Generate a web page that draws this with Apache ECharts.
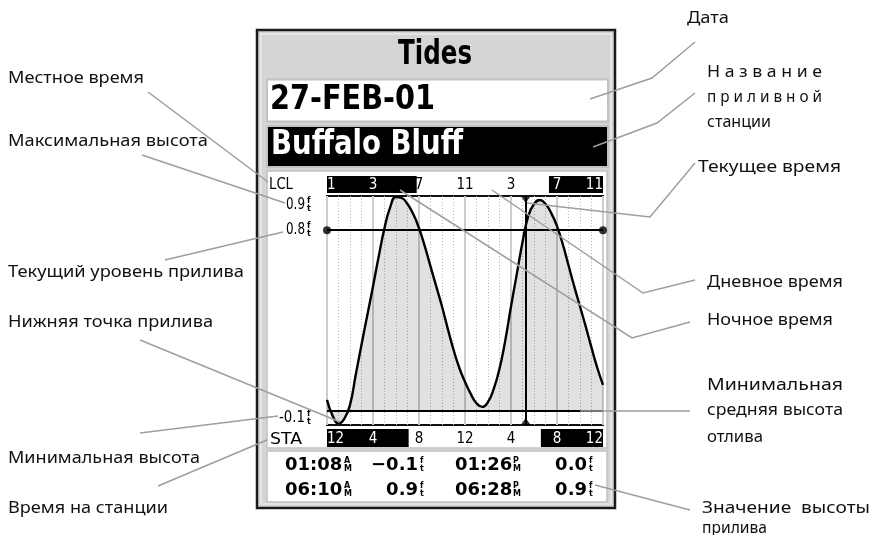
<!DOCTYPE html>
<html><head><meta charset="utf-8">
<script src="https://cdn.jsdelivr.net/npm/echarts@6/dist/echarts.min.js"></script>
<style>html,body{margin:0;padding:0;background:#fff}#c{width:871px;height:535px}</style>
</head><body><div id="c"></div>
<script>
// ---------- data ----------
const hours = [0, 0.5, 1, 1.5, 2, 2.5, 3, 3.5, 4, 4.5, 5, 5.5, 6, 6.5, 7, 7.5, 8, 8.5, 9, 9.5, 10, 10.5, 11, 11.5, 12, 12.5, 13, 13.5, 14, 14.5, 15, 15.5, 16, 16.5, 17, 17.5, 18, 18.5, 19, 19.5, 20, 20.5, 21, 21.5, 22, 22.5, 23, 23.5, 24];
const tideFt = [-0.045, -0.125, -0.163, -0.14, -0.07, 0.08, 0.23, 0.375, 0.52, 0.67, 0.81, 0.915, 0.965, 0.96, 0.93, 0.88, 0.81, 0.72, 0.62, 0.52, 0.42, 0.31, 0.205, 0.115, 0.045, -0.015, -0.062, -0.08, -0.055, 0.01, 0.11, 0.25, 0.42, 0.58, 0.74, 0.87, 0.93, 0.95, 0.93, 0.885, 0.82, 0.73, 0.625, 0.52, 0.42, 0.32, 0.215, 0.115, 0.03];
const xTicks = [0, 4, 8, 12, 16, 20, 24];
const lclLabels = ['1', '3', '7', '11', '3', '7', '11'];
const staLabels = ['12', '4', '8', '12', '4', '8', '12'];
const lclNight = [[0, 7.8], [19.3, 24]];
const staNight = [[0, 7.1], [18.6, 24]];
const currentTime = 17.28;
const currentLevel = 0.8;
const meanLowWater = -0.1;
const yMin = -0.17, yMax = 0.97;
const yTickLabels = ['0.9', '0.8', '-0.1'];
const tableTimes = [['01:08', '01:26'], ['06:10', '06:28']];
const tableAmPm = [['A', 'P'], ['A', 'P']];
const tableHeights = [['−0.1', '0.0'], ['0.9', '0.9']];
const titleText = 'Tides', dateText = '27-FEB-01', stationText = 'Buffalo Bluff';

// ---------- helpers ----------
const mctx = document.createElement('canvas').getContext('2d');
function tw(text, font) { mctx.font = font; return mctx.measureText(text).width; }
function txt(text, x, y, font, fill, opt) {
  opt = opt || {};
  const el = { type: 'text', x: x, y: y, z: opt.z != null ? opt.z : 20, silent: true,
    style: { text: text, font: font, fill: fill, align: opt.align || 'left', verticalAlign: 'middle' } };
  if (opt.w) el.scaleX = opt.w / tw(text, font);
  return el;
}
function rect(x, y, w, h, fill, stroke, lw, z) {
  return { type: 'rect', z: z != null ? z : -10, silent: true, shape: { x: x, y: y, width: w, height: h },
    style: { fill: fill, stroke: stroke || null, lineWidth: lw || 0 } };
}
function lead(points) {
  return { type: 'polyline', z: 50, silent: true, shape: { points: points },
    style: { stroke: '#9e9e9e', lineWidth: 1.5, fill: null } };
}
function stack(x, y, a, b, font) {
  return [txt(a, x, y - 4, font, '#000', { z: 21 }), txt(b, x, y + 3.5, font, '#000', { z: 21 })];
}
const inNight = (ivals, v) => ivals.some(r => v >= r[0] && v <= r[1]);

const NOTO = '17px "Noto Sans"';
const g = [];
// device frame
g.push(rect(257, 30, 358, 478, '#d5d5d5', '#1a1a1a', 2.5));
g.push(rect(261, 34, 350, 470, null, '#e9e9e9', 1.5));
g.push(rect(267, 79.5, 341, 42, '#ffffff', '#c2c2c2', 2));
g.push(rect(267, 126, 341, 41, '#000000', '#c2c2c2', 2));
g.push(rect(267, 171, 340, 277, '#ffffff', '#c2c2c2', 1.5));
g.push(rect(267, 451, 340, 51, '#ffffff', '#c2c2c2', 1.5));
// header texts
g.push(txt(titleText, 398, 55, 'bold 33px "DejaVu Sans"', '#000', { w: 74 }));
g.push(txt(dateText, 270, 100.5, 'bold 34px "DejaVu Sans"', '#000', { w: 165 }));
g.push(txt(stationText, 271, 145.5, 'bold 34px "DejaVu Sans"', '#fff', { w: 192 }));
// axis side texts
g.push(txt('LCL', 269, 185, '16px "DejaVu Sans"', '#000', { w: 24 }));
g.push(txt('STA', 270, 440, '16px "DejaVu Sans"', '#000', { w: 32 }));
const yLabPos = [[286, 205, 19], [286, 230, 19], [279, 418, 26]];
yTickLabels.forEach((t, i) => {
  const p = yLabPos[i];
  g.push(txt(t, p[0], p[1], '16px "DejaVu Sans"', '#000', { w: p[2] }));
  g.push.apply(g, stack(307, p[1], 'f', 't', 'bold 8px "DejaVu Sans"'));
});
// table
const rowY = [465, 490];
const TF = 'bold 18px "DejaVu Sans"';
const SF = 'bold 8px "DejaVu Sans"';
for (let r = 0; r < 2; r++) {
  const y = rowY[r];
  g.push(txt(tableTimes[r][0], 285, y, TF, '#000'));
  g.push.apply(g, stack(344, y, tableAmPm[r][0], 'M', SF));
  g.push(txt(tableHeights[r][0], 418, y, TF, '#000', { align: 'right' }));
  g.push.apply(g, stack(420, y, 'f', 't', SF));
  g.push(txt(tableTimes[r][1], 455, y, TF, '#000'));
  g.push.apply(g, stack(513, y, tableAmPm[r][1], 'M', SF));
  g.push(txt(tableHeights[r][1], 587, y, TF, '#000', { align: 'right' }));
  g.push.apply(g, stack(589, y, 'f', 't', SF));
}
// annotation labels
const ann = [
  ['Местное время', 8, 78, 136], ['Максимальная высота', 8, 141, 200], ['Текущий уровень прилива', 8, 272, 236],
  ['Нижняя точка прилива', 8, 322, 205], ['Минимальная высота', 8, 458, 192], ['Время на станции', 8, 508, 160],
  ['Дата', 687, 18, 42], ['Н а з в а н и е', 707, 72, 115], ['п р и л и в н о й', 707, 97, 115], ['станции', 707, 122, 64],
  ['Текущее время', 698, 167, 143], ['Дневное время', 707, 282, 136], ['Ночное время', 707, 320, 126],
  ['Минимальная', 707, 385, 136], ['средняя высота', 707, 410, 136], ['отлива', 707, 437, 56],
  ['Значение  высоты', 702, 508, 168], ['прилива', 702, 528, 65]
];
ann.forEach(a => g.push(txt(a[0], a[1], a[2], NOTO, '#111', { w: a[3] })));
// leader lines
[
  [[148, 92], [268, 182]], [[142, 155], [285, 203]], [[165, 260], [283, 232]], [[140, 340], [340, 422]],
  [[140, 433], [278, 416]], [[158, 486], [267, 440]],
  [[695, 42], [652, 78], [590, 99]], [[695, 93], [657, 123], [593, 147]], [[695, 163], [650, 217], [527, 203]],
  [[695, 280], [643, 293], [492, 190]], [[690, 322], [632, 338], [400, 190]], [[690, 411], [580, 411]],
  [[690, 510], [595, 485]]
].forEach(p => g.push(lead(p)));

function nightSeries(idx, ivals) {
  return {
    type: 'custom', xAxisIndex: idx, yAxisIndex: idx, data: ivals, silent: true, z: 1,
    renderItem: function (params, api) {
      const p0 = api.coord([api.value(0), 1]);
      const p1 = api.coord([api.value(1), 0]);
      return { type: 'rect', shape: { x: p0[0], y: p0[1], width: p1[0] - p0[0], height: p1[1] - p0[1] }, style: { fill: '#000' } };
    }
  };
}
function barAxis(idx, pos, labels, ivals, margin) {
  return {
    gridIndex: idx, type: 'value', min: 0, max: 24, interval: 4, position: pos, z: 10,
    axisLine: { show: false }, axisTick: { show: false }, splitLine: { show: false },
    axisLabel: {
      inside: true, margin: margin, fontSize: 15, fontFamily: 'DejaVu Sans Condensed, DejaVu Sans',
      verticalAlign: 'middle', alignMinLabel: 'left', alignMaxLabel: 'right',
      formatter: v => labels[xTicks.indexOf(v)],
      color: v => inNight(ivals, Number(v)) ? '#fff' : '#000'
    }
  };
}

const option = {
  backgroundColor: '#fff',
  animation: false,
  grid: [
    { left: 327, top: 196, width: 276, height: 229, show: true, borderColor: '#111', borderWidth: 2, backgroundColor: 'transparent' },
    { left: 327, top: 176, width: 276, height: 17 },
    { left: 327, top: 429, width: 276, height: 18 }
  ],
  xAxis: [
    { gridIndex: 0, type: 'value', min: 0, max: 24, interval: 4,
      axisLine: { show: false }, axisTick: { show: false }, axisLabel: { show: false },
      splitLine: { show: true, lineStyle: { color: '#cdcdcd', width: 2 } },
      minorTick: { show: false, splitNumber: 4 },
      minorSplitLine: { show: true, lineStyle: { color: '#b8b8b8', width: 1, type: [1, 2] } } },
    barAxis(1, 'top', lclLabels, lclNight, 9),
    barAxis(2, 'bottom', staLabels, staNight, 8)
  ],
  yAxis: [
    { gridIndex: 0, type: 'value', min: yMin, max: yMax, show: false, splitLine: { show: false } },
    { gridIndex: 1, type: 'value', min: 0, max: 1, show: false },
    { gridIndex: 2, type: 'value', min: 0, max: 1, show: false }
  ],
  series: [
    { type: 'line', xAxisIndex: 0, yAxisIndex: 0, data: hours.map((h, i) => [h, tideFt[i]]),
      smooth: 0.5, symbol: 'none', z: 3, silent: true,
      lineStyle: { color: '#000', width: 2.4 },
      areaStyle: { origin: meanLowWater, color: 'rgba(0,0,0,0.17)' },
      markLine: { silent: true, symbol: 'none', animation: false, label: { show: false },
        lineStyle: { color: '#000', width: 2, type: 'solid' },
        data: [{ yAxis: meanLowWater }, { yAxis: currentLevel }, { xAxis: currentTime }] } },
    { type: 'scatter', xAxisIndex: 0, yAxisIndex: 0, z: 4, silent: true, clip: false,
      itemStyle: { color: '#000' },
      data: [
        { value: [0, currentLevel], symbol: 'circle', symbolSize: 8 },
        { value: [24, currentLevel], symbol: 'circle', symbolSize: 8 },
        { value: [currentTime, yMax], symbol: 'triangle', symbolSize: [10, 7], symbolRotate: 180, symbolOffset: [0, 3.5] },
        { value: [currentTime, yMin], symbol: 'triangle', symbolSize: [10, 7], symbolOffset: [0, -3.5] }
      ] },
    nightSeries(1, lclNight),
    nightSeries(2, staNight)
  ],
  graphic: { elements: g }
};
const chart = echarts.init(document.getElementById('c'), null, { renderer: 'canvas' });
chart.setOption(option);
</script></body></html>
